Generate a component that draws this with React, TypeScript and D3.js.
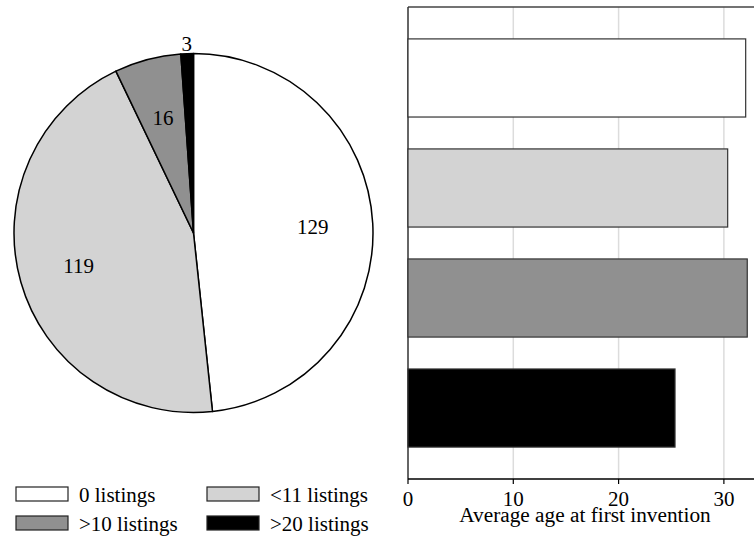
import React from "react";
import * as d3 from "d3";

const categories = ["0 listings", "<11 listings", ">10 listings", ">20 listings"];
const counts = [129, 119, 16, 3];
const avgAge = [32.07, 30.36, 32.22, 25.36];
const colors = ["#ffffff", "#d3d3d3", "#909090", "#000000"];
const xTicks = [0, 10, 20, 30];
const xTitle = "Average age at first invention";

const W = 754;
const H = 537;
const FONT = "'Liberation Serif', 'Times New Roman', serif";

export default function App() {
  // Pie
  const cx = 193.5, cy = 233, r = 179.5;
  const pie = d3.pie<number>().sort(null).value((d) => d)(counts);
  const arc = d3.arc<d3.PieArcDatum<number>>().innerRadius(0).outerRadius(r);
  const total = d3.sum(counts);

  // Bars
  const x = d3.scaleLinear().domain([0, 32.86]).range([408, 754]);
  const y = d3.scaleBand<string>().domain(categories).range([7, 479]).padding(0.29);
  const x0 = x(0);
  const yTop = 7, yBot = 479;

  return (
    <svg width={W} height={H} style={{ position: "absolute", left: 0, top: 0, fontFamily: FONT }}>
      <rect width={W} height={H} fill="#fff" />
      <g transform={`translate(${cx},${cy})`}>
        {pie.map((p, i) => (
          <path key={i} d={arc(p) || ""} fill={colors[i]} stroke="#000" strokeWidth={1.5} strokeLinejoin="round" />
        ))}
        {pie.map((p, i) => {
          const mid = (p.startAngle + p.endAngle) / 2;
          const small = p.value / total < 0.02;
          const lr = small ? r + 10 : r * 0.665;
          return (
            <text key={"l" + i} x={Math.sin(mid) * lr} y={-Math.cos(mid) * lr} dy="0.35em"
              textAnchor="middle" fontSize={21} fill={i === 3 && !small ? "#fff" : "#000"}>
              {counts[i]}
            </text>
          );
        })}
      </g>

      {/* gridlines */}
      {xTicks.filter((t) => t > 0).map((t) => (
        <line key={t} x1={x(t)} x2={x(t)} y1={yTop} y2={yBot} stroke="#dcdcdc" strokeWidth={1.5} />
      ))}
      {/* frame */}
      <line x1={x0} x2={W} y1={yTop} y2={yTop} stroke="#444" strokeWidth={1.5} />
      <line x1={x0} x2={x0} y1={yTop} y2={yBot} stroke="#333" strokeWidth={1.5} />
      {/* bars */}
      {categories.map((c, i) => (
        <rect key={c} x={x0} y={y(c)} width={x(avgAge[i]) - x0} height={y.bandwidth()}
          fill={colors[i]} stroke="#333" strokeWidth={1.2} />
      ))}
      {/* x axis */}
      <line x1={x0} x2={W} y1={yBot} y2={yBot} stroke="#000" strokeWidth={1.5} />
      {xTicks.map((t) => (
        <g key={"t" + t}>
          <line x1={x(t)} x2={x(t)} y1={yBot} y2={yBot + 5} stroke="#000" strokeWidth={1.2} />
          <text x={x(t)} y={506} textAnchor="middle" fontSize={21}>{t}</text>
        </g>
      ))}
      <text x={585} y={522} textAnchor="middle" fontSize={21.3}>{xTitle}</text>

      {/* legend */}
      {categories.map((c, i) => {
        const col = i % 2;
        const row = Math.floor(i / 2);
        const sx = col === 0 ? 16 : 207;
        const sy = 487 + row * 29;
        return (
          <g key={"lg" + c}>
            <rect x={sx} y={sy} width={52} height={14} fill={colors[i]} stroke="#222" strokeWidth={1.2} />
            <text x={sx + 63} y={sy + 14.5} fontSize={21}>{c}</text>
          </g>
        );
      })}
    </svg>
  );
}
